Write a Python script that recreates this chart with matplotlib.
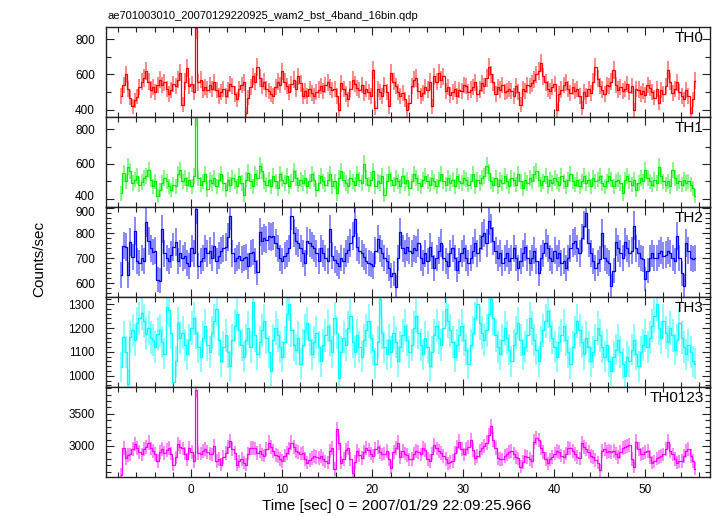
import numpy as np
import matplotlib
matplotlib.use("Agg")
import matplotlib.pyplot as plt
from matplotlib.ticker import MultipleLocator
from matplotlib.transforms import ScaledTranslation

plt.rcParams['font.family'] = ['Liberation Sans', 'DejaVu Sans']

title = "ae701003010_20070129220925_wam2_bst_4band_16bin.qdp"
xlabel = "Time [sec] 0 = 2007/01/29 22:09:25.966"
ylabel = "Counts/sec"

t_start = -7.8      # start of first bin (s)
bin_width = 0.25    # s

th0 = np.array("""
480 540 600 520 470 420 455 475 530 560
580 620 560 515 530 500 540 570 540 555
520 490 510 545 535 570 610 430 560 635
535 545 500 860 555 570 515 530 515 540
520 555 510 480 500 520 480 510 545 535
490 460 520 540 555 380 470 530 590 560
645 580 535 560 520 505 490 480 530 560
540 617 560 535 500 545 570 520 590 550
480 505 480 520 495 480 500 515 535 505
540 555 530 510 520 480 400 550 520 490
460 520 570 545 525 510 540 495 520 500
480 625 410 520 500 480 540 500 420 610
560 535 500 480 495 460 400 440 535 570
580 505 480 495 530 515 560 420 590 560
610 570 590 505 530 485 500 520 480 510
505 540 535 500 515 530 555 490 515 550
535 580 645 600 555 490 530 515 540 500
505 520 505 480 535 500 430 520 505 540
535 550 570 600 620 665 590 555 520 505
530 545 400 490 515 540 555 520 495 530
505 520 480 410 500 480 520 495 560 640
575 535 515 490 540 535 560 625 540 515
530 505 520 545 500 535 400 520 515 490
505 485 540 525 500 470 520 440 510 490
535 625 560 495 520 555 500 480 460 510
480 380 460 565
""".split(), dtype=float)

th1 = np.array("""
430 545 500 585 560 490 510 530 480 495
520 530 565 510 470 500 415 450 490 520
500 470 450 480 470 540 565 500 520 480
510 470 530 875 520 480 500 540 455 510
490 520 470 505 540 490 450 510 480 520
500 470 530 490 420 510 550 500 470 540
520 590 560 500 480 510 470 530 500 460
540 510 490 530 470 500 560 520 480 510
490 520 470 500 540 510 450 490 530 500
480 510 540 470 500 430 520 560 510 490
470 520 500 480 540 510 490 600 520 480
510 560 470 500 490 530 420 500 540 510
480 520 500 470 530 490 510 460 500 540
520 490 470 510 530 500 480 520 500 470
510 540 500 480 520 490 510 470 530 500
490 520 510 480 500 540 470 510 490 520
530 590 550 500 480 520 470 510 490 530
500 470 520 510 480 540 500 460 510 490
520 500 540 560 510 480 500 530 470 510
490 520 500 480 530 500 470 510 540 500
480 510 470 500 530 490 510 470 520 500
510 530 490 470 500 530 510 470 500 510
490 430 510 530 500 480 510 450 490 520
500 565 520 500 480 510 490 585 530 500
480 500 470 565 520 490 500 480 510 490
500 480 460 415
""".split(), dtype=float)

th2 = np.array("""
633 750 745 633 765 705 810 690 680 700
690 845 770 740 725 730 615 610 817 720
700 690 715 745 764 690 720 700 710 680
670 740 720 897 670 690 700 740 720 730
700 750 690 710 730 740 745 784 870 720
690 700 710 695 700 705 670 720 725 690
644 804 770 780 775 790 785 790 760 740
700 690 710 720 740 870 800 770 760 740
720 680 770 760 750 740 720 690 740 720
700 690 817 710 695 680 670 700 690 720
735 760 790 857 745 730 720 705 690 680
677 670 730 777 740 720 700 690 660 630
640 584 700 804 740 720 745 730 720 740
735 760 700 680 720 690 745 710 660 700
730 760 700 690 670 720 740 700 655 690
720 740 700 680 700 730 760 720 740 790
800 760 850 820 770 730 700 720 680 700
720 690 700 740 700 660 690 720 745 700
680 700 730 690 640 700 720 760 740 700
690 730 700 720 680 690 660 700 740 760
770 740 720 780 830 880 760 720 690 660
680 697 800 700 690 680 590 650 764 740
720 700 764 740 720 730 830 740 720 700
697 617 650 700 720 700 700 720 730 710
715 730 720 700 690 790 700 640 590 760
730 700 697 700
""".split(), dtype=float)

th3 = np.array("""
1037 1163 1100 967 1163 1190 1150 1220 1240 1262
1230 1177 1200 1160 1150 1120 1177 1190 1140 1093
1290 1276 1180 973 1060 1220 1160 1180 1130 1090
1150 1200 1240 1180 1120 1080 1160 1210 1130 1100
1180 1230 1280 1150 1060 1120 1170 1100 1040 1150
1210 1260 1190 1130 1080 1150 1200 1120 1310 1170
1090 1140 1190 1230 1160 1100 1020 1150 1200 1170
1120 1080 1140 1260 1300 1190 1130 1110 1160 1050
1130 1190 1220 1150 1090 1140 1180 1120 1060 1130
1170 1210 1150 1100 1240 1180 990 1100 1160 1130
1200 1250 1140 1100 1170 1120 1080 1150 1190 1230
1160 1110 1050 1140 1320 1180 1120 1090 1150 1100
1180 1140 1060 1120 1170 1210 1150 1100 1130 1200
1250 1180 1130 1090 1160 1120 1040 1100 1170 1210
1160 1130 1200 1280 1230 1190 1140 1080 1130 1170
1210 1150 1110 1050 1130 1180 1240 1300 1220 1180
1150 1190 1260 1320 1240 1170 1120 1090 1150 1200
1160 1110 1060 1130 1180 1220 1150 1090 1120 1170
1240 1200 1150 1110 1060 1140 1190 1230 1270 1210
1160 1120 1080 1140 1170 1210 1150 1100 1050 1120
1180 1230 1190 1140 1090 1160 1120 1060 1100 1150
1200 1170 1120 1080 1130 1060 1020 1080 1110 1150
1100 1050 1000 1080 1060 1110 1150 1090 1040 1100
1130 1170 1120 1160 1210 1250 1300 1200 1160 1230
1180 1140 1200 1170 1110 1150 1220 1160 1120 1090
1130 1100 1060 1050
""".split(), dtype=float)

th0123 = np.array("""
2553 2974 2815 2860 2868 2950 3026 2974 2900 2868
2947 2990 3053 2960 2921 2870 2763 2900 2947 2895
2930 2974 2880 2710 2820 3026 2980 2960 2880 2790
2974 2900 2763 3870 2895 2880 2921 2947 2900 2880
2868 3000 2763 2800 2710 2830 2895 2980 3079 2950
2895 2710 2760 2800 2740 2710 2880 2974 2974 2960
2895 2920 2868 2850 2950 3053 2980 2921 2860 2840
2800 2763 2850 2895 2960 3053 2990 2921 2900 2880
2895 2800 2737 2780 2815 2840 2830 2815 2840 2800
2760 2737 2920 2974 2640 3263 3053 2737 2800 2930
2974 2800 2580 2750 2921 2860 2815 2900 2974 2930
2880 2841 2947 2990 2900 2868 2880 2921 2800 2658
2900 2974 3053 2832 2921 2880 2860 2790 2800 2880
2921 2900 2868 2974 2930 2800 2763 2880 3016 2960
2921 2895 2840 2800 2726 2750 2763 2890 2980 3068
2950 2868 2947 2990 3095 2940 2805 2840 2921 2960
3000 3053 3174 3305 3100 2974 2805 2800 2790 2840
2868 2900 2921 2880 2832 2805 2674 2750 2840 2832
2800 2760 3068 3120 3095 2974 2900 2800 2726 2790
2832 2880 2921 2900 2850 2832 2880 2974 2960 2921
2870 2832 2805 3042 2990 2947 2900 2840 2832 2780
2737 2621 2921 2947 2900 2921 2900 2921 2880 2832
2900 2974 2990 3000 3016 2800 2674 3068 2950 2868
2880 2900 2921 2830 2737 2760 2805 2830 2840 2868
2950 3068 2921 2868 2800 2737 2760 2763 2840 2921
2947 2840 2763 2647
""".split(), dtype=float)

series = [th0, th1, th2, th3, th0123]
names = ["TH0", "TH1", "TH2", "TH3", "TH0123"]
colors = ["#ff0000", "#00ee00", "#0000ff", "#00ffff", "#ff00ff"]
ylims = [(360, 868), (352, 870), (545, 905), (953, 1330), (2515, 3920)]
ymajor = [200, 200, 100, 100, 500]
yminor = [100, 100, 20, 20, 100]

fig = plt.figure(figsize=(7.17, 5.16), dpi=100)
left, right = 106 / 717, 710 / 717
top, bottom = 1 - 27 / 516, 1 - 477 / 516
ph = (top - bottom) / 5

axes = []
for i, (y, name, c) in enumerate(zip(series, names, colors)):
    ax = fig.add_axes([left, top - (i + 1) * ph, right - left, ph])
    axes.append(ax)
    n = len(y)
    t = t_start + bin_width * (np.arange(n) + 0.5)
    err = np.sqrt(y * bin_width) / bin_width
    ax.errorbar(t, y, yerr=err, fmt='none', ecolor=c, elinewidth=1.3,
                alpha=0.5, capsize=0)
    ax.step(t, y, where='mid', color=c, lw=0.9)
    ax.set_xlim(-9.36, 57.2)
    ax.set_ylim(*ylims[i])
    ax.xaxis.set_major_locator(MultipleLocator(10))
    ax.xaxis.set_minor_locator(MultipleLocator(2))
    ax.yaxis.set_major_locator(MultipleLocator(ymajor[i]))
    ax.yaxis.set_minor_locator(MultipleLocator(yminor[i]))
    ax.tick_params(which='both', direction='in', top=True, right=True,
                   labelsize=8.5, width=0.8, color='#222222')
    ax.tick_params(which='major', length=6)
    ax.tick_params(which='minor', length=3.5)
    ax.tick_params(axis='y', pad=8)
    ax.tick_params(axis='x', pad=5)
    for s in ax.spines.values():
        s.set_linewidth(1.0)
        s.set_color('#222222')
    if i < 4:
        ax.tick_params(labelbottom=False)
    ax.text(0.99, 0.955, name, transform=ax.transAxes, ha='right', va='top',
            fontsize=11)

fig.text(107 / 717, 1 - 19 / 516, title, fontsize=8, ha='left', va='baseline')
fig.text(397 / 717, 1 - 510 / 516, xlabel, fontsize=11, ha='center',
         va='baseline')
fig.text(39 / 717, 1 - 259 / 516, ylabel, fontsize=11, ha='center',
         va='center', rotation=90)

# nudge the two crowded tick labels at the TH1/TH2 boundary apart
fig.canvas.draw()
for tick in axes[1].yaxis.get_major_ticks():
    if abs(tick.get_loc() - 400) < 1e-6:
        tick.label1.set_transform(tick.label1.get_transform() +
                                  ScaledTranslation(0, 0.035, fig.dpi_scale_trans))
for tick in axes[2].yaxis.get_major_ticks():
    if abs(tick.get_loc() - 900) < 1e-6:
        tick.label1.set_transform(tick.label1.get_transform() +
                                  ScaledTranslation(0, -0.035, fig.dpi_scale_trans))

fig.savefig("out.png", dpi=100)
